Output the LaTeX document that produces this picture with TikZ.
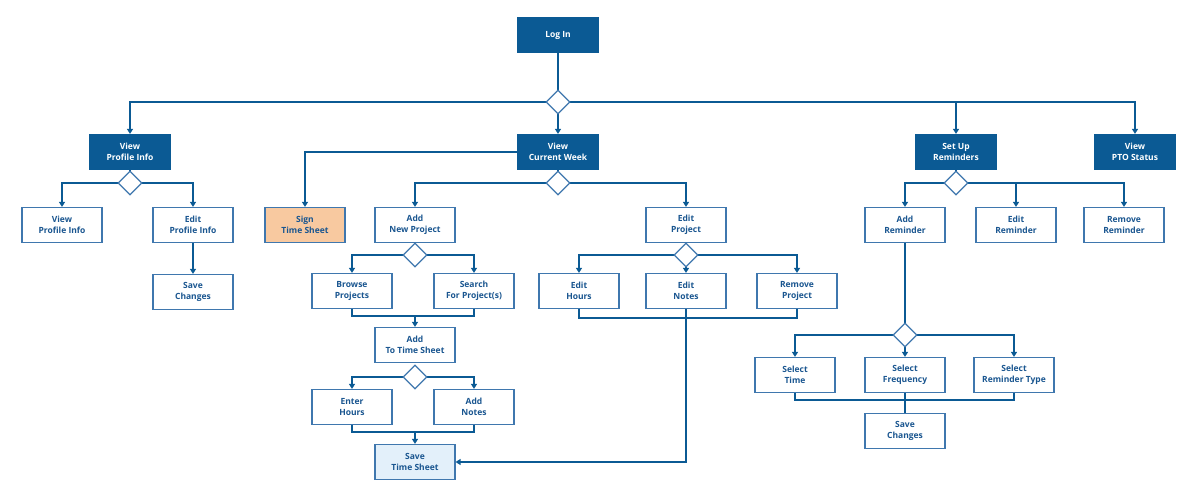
\documentclass[tikz,border=0pt]{standalone}
\usepackage{fontspec}
\setmainfont{Open Sans}
\usetikzlibrary{shapes.geometric,arrows.meta}
\definecolor{dblue}{HTML}{0B5A94}
\definecolor{tblue}{HTML}{1A5690}
\definecolor{bord}{HTML}{3F77AE}
\definecolor{orng}{HTML}{F8C9A0}
\definecolor{lblue}{HTML}{E3F0FA}
\begin{document}
\begin{tikzpicture}[x=1pt,y=-1pt,
  box/.style={draw=bord,line width=1.2pt,fill=white,minimum width=80pt,minimum height=35pt,align=center,font=\bfseries\fontsize{8.5}{10.5}\selectfont,text=tblue,inner sep=1pt},
  top/.style={box,fill=dblue,draw=dblue,text=white},
  dia/.style={diamond,draw=bord,line width=1.2pt,fill=white,minimum width=24pt,minimum height=24pt,inner sep=0pt},
  ln/.style={draw=dblue,line width=2pt},
  ar/.style={ln,-{Triangle[length=5pt,width=6pt]}}]
\useasboundingbox (0,0) rectangle (1200,503);
% nodes
\node[top] (login) at (558,35) {Log In};
\node[top] (vpi) at (130,152) {View\\Profile Info};
\node[top] (vcw) at (558,152) {View\\Current Week};
\node[top] (sur) at (956,152) {Set Up\\Reminders};
\node[top] (pto) at (1135,152) {View\\PTO Status};
\node[box] (vpi2) at (62,225) {View\\Profile Info};
\node[box] (epi) at (193,225) {Edit\\Profile Info};
\node[box] (sc1) at (193,292) {Save\\Changes};
\node[box,fill=orng] (sign) at (305,225) {Sign\\Time Sheet};
\node[box] (anp) at (415,225) {Add\\New Project};
\node[box] (ep) at (686,225) {Edit\\Project};
\node[box] (bp) at (352,291) {Browse\\Projects};
\node[box] (sp) at (474,291) {Search\\For Project(s)};
\node[box] (ats) at (415,345) {Add\\To Time Sheet};
\node[box] (eh) at (352,407) {Enter\\Hours};
\node[box] (an) at (474,407) {Add\\Notes};
\node[box,fill=lblue] (sts) at (415,462) {Save\\Time Sheet};
\node[box] (eh2) at (579,291) {Edit\\Hours};
\node[box] (en) at (686,291) {Edit\\Notes};
\node[box] (rp) at (797,291) {Remove\\Project};
\node[box] (ar) at (905,225) {Add\\Reminder};
\node[box] (er) at (1016,225) {Edit\\Reminder};
\node[box] (rr) at (1124,225) {Remove\\Reminder};
\node[box] (st) at (795,375) {Select\\Time};
\node[box] (sf) at (905,375) {Select\\Frequency};
\node[box] (srt) at (1014,375) {Select\\Reminder Type};
\node[box] (sc2) at (905,431) {Save\\Changes};
% connectors
\draw[ln] (login) -- (558,91);
\draw[ar] (558,102) -| (vpi);
\draw[ar] (558,102) -| (pto);
\draw[ar] (558,102) -| (sur);
\draw[ar] (558,113) -- (vcw);
\node[dia] (d0) at (558,102) {};
% profile
\draw[ln] (vpi) -- (130,172);
\draw[ar] (130,183) -| (vpi2);
\draw[ar] (130,183) -| (epi);
\node[dia] (d1) at (130,183) {};
\draw[ar] (epi) -- (sc1);
% current week
\draw[ar] (vcw.west) -| (sign);
\draw[ln] (vcw) -- (558,172);
\draw[ar] (558,183) -| (anp);
\draw[ar] (558,183) -| (ep);
\node[dia] (d2) at (558,183) {};
\draw[ar] (415,255) -| (bp);
\draw[ar] (415,255) -| (sp);
\node[dia] (d3) at (415,255) {};
\draw[ln] (bp.south) |- (415,316) -| (sp.south);
\draw[ar] (415,316) -- (ats);
\draw[ar] (415,377) -| (eh);
\draw[ar] (415,377) -| (an);
\node[dia] (d4) at (415,377) {};
\draw[ln] (eh.south) |- (415,432) -| (an.south);
\draw[ar] (415,432) -- (sts);
\draw[ar] (686,255) -| (eh2);
\draw[ar] (686,255) -| (rp);
\draw[ar] (686,266) -- (en);
\node[dia] (d5) at (686,255) {};
\draw[ln] (eh2.south) |- (797,318) -- (rp.south);
\draw[ar] (en.south) -- (686,462) -- (sts.east);
% reminders
\draw[ln] (sur) -- (956,172);
\draw[ar] (956,183) -| (ar);
\draw[ar] (956,183) -| (er);
\draw[ar] (956,183) -| (rr);
\node[dia] (d6) at (956,183) {};
\draw[ln] (ar) -- (905,324);
\draw[ar] (905,335) -| (st);
\draw[ar] (905,335) -| (srt);
\draw[ar] (905,346) -- (sf);
\node[dia] (d7) at (905,335) {};
\draw[ln] (st.south) |- (1014,400) -- (srt.south);
\draw[ln] (sf.south) -- (sc2);
\end{tikzpicture}
\end{document}
